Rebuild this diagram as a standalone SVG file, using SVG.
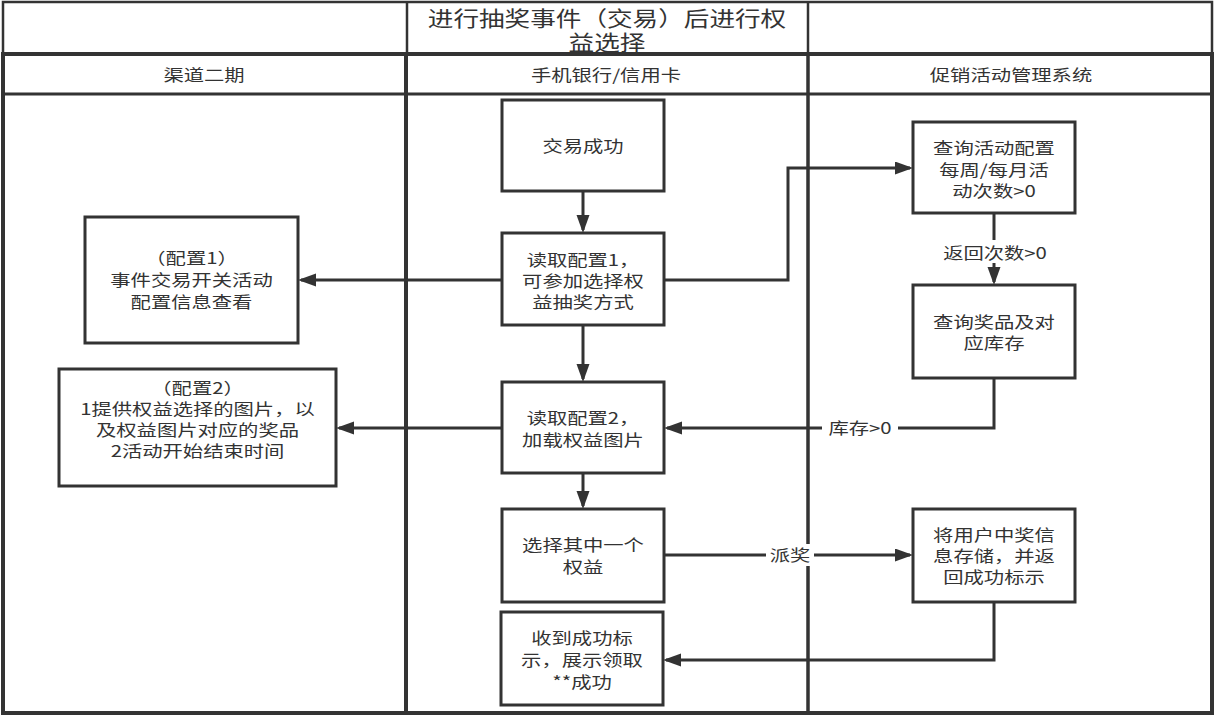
<svg xmlns="http://www.w3.org/2000/svg" width="1218" height="718" viewBox="0 0 1218 718">
<style>
  .frame{fill:none;stroke:#333}
  .box{fill:#fff;stroke:#333;stroke-width:3}
  .edge{fill:none;stroke:#333;stroke-width:3}
  .t{font-family:"Noto Sans CJK SC","Noto Sans",sans-serif;font-size:16px;fill:#333;text-anchor:middle}
  .title{font-family:"Noto Sans CJK SC","Noto Sans",sans-serif;font-size:21px;fill:#333;text-anchor:middle}
  .lblbg{fill:#fff;stroke:none}
</style>
<defs>
  <marker id="arr" markerUnits="userSpaceOnUse" markerWidth="20" markerHeight="14" refX="15" refY="6.5" orient="auto">
    <path d="M0,0 L18,6.5 L0,13 z" fill="#333"/>
  </marker>
</defs>
<rect width="1218" height="718" fill="#fff"/>
<g id="lanes">
  <rect class="frame" x="3" y="2" width="1209" height="52" stroke-width="2.5"/>
  <line class="frame" x1="407" y1="2" x2="407" y2="54" stroke-width="2.5"/>
  <line class="frame" x1="808" y1="2" x2="808" y2="54" stroke-width="2.5"/>
  <rect class="frame" x="3" y="54" width="1209" height="659" stroke-width="4"/>
  <line class="frame" x1="3" y1="94" x2="1212" y2="94" stroke-width="3"/>
  <line class="frame" x1="406" y1="54" x2="406" y2="713" stroke-width="4"/>
  <line class="frame" x1="808" y1="54" x2="808" y2="713" stroke-width="3.5"/>
  <text class="title" transform="translate(607,25.5) scale(1.22,1)">进行抽奖事件（交易）后进行权</text>
  <text class="title" transform="translate(607,50) scale(1.22,1)">益选择</text>
  <text class="t" transform="translate(204,81) scale(1.27,1)">渠道二期</text>
  <text class="t" transform="translate(606,81) scale(1.27,1)">手机银行/信用卡</text>
  <text class="t" transform="translate(1011,81) scale(1.27,1)">促销活动管理系统</text>
</g>
<g id="connectors">
  <path class="edge" d="M583,191 V230" marker-end="url(#arr)"/>
  <path class="edge" d="M583,325 V379" marker-end="url(#arr)"/>
  <path class="edge" d="M583,473 V506" marker-end="url(#arr)"/>
  <path class="edge" d="M502,280 H301" marker-end="url(#arr)"/>
  <path class="edge" d="M664,280 H788 V168 H910" marker-end="url(#arr)"/>
  <path class="edge" d="M502,428 H339" marker-end="url(#arr)"/>
  <path class="edge" d="M994,213 V282" marker-end="url(#arr)"/>
  <path class="edge" d="M994,378 V428 H667" marker-end="url(#arr)"/>
  <path class="edge" d="M664,555 H910" marker-end="url(#arr)"/>
  <path class="edge" d="M994,602 V660 H666" marker-end="url(#arr)"/>
  <rect class="lblbg" x="940" y="240" width="110" height="23"/>
  <text class="t" transform="translate(995,259) scale(1.27,1)">返回次数&gt;0</text>
  <rect class="lblbg" x="822" y="418" width="76" height="21"/>
  <text class="t" transform="translate(860,434) scale(1.27,1)">库存&gt;0</text>
  <rect class="lblbg" x="766" y="544" width="48" height="22"/>
  <text class="t" transform="translate(790,561) scale(1.27,1)">派奖</text>
</g>
<g id="n1">
  <rect class="box" x="502" y="100" width="162" height="91"/>
  <text class="t" transform="translate(583,152) scale(1.27,1)">交易成功</text>
</g>
<g id="n2">
  <rect class="box" x="502" y="233" width="162" height="92"/>
  <text class="t" transform="translate(583,266) scale(1.27,1)"><tspan x="0" y="0">读取配置1，</tspan><tspan x="0" y="21">可参加选择权</tspan><tspan x="0" y="42">益抽奖方式</tspan></text>
</g>
<g id="n3">
  <rect class="box" x="502" y="382" width="162" height="91"/>
  <text class="t" transform="translate(583,424) scale(1.27,1)"><tspan x="0" y="0">读取配置2，</tspan><tspan x="0" y="22">加载权益图片</tspan></text>
</g>
<g id="n4">
  <rect class="box" x="502" y="509" width="162" height="93"/>
  <text class="t" transform="translate(583,551) scale(1.27,1)"><tspan x="0" y="0">选择其中一个</tspan><tspan x="0" y="22">权益</tspan></text>
</g>
<g id="n5">
  <rect class="box" x="501" y="612" width="162" height="93"/>
  <text class="t" transform="translate(582,644) scale(1.27,1)"><tspan x="0" y="0">收到成功标</tspan><tspan x="0" y="22">示，展示领取</tspan><tspan x="0" y="44">**成功</tspan></text>
</g>
<g id="n6">
  <rect class="box" x="913" y="122" width="162" height="91"/>
  <text class="t" transform="translate(994,154) scale(1.27,1)"><tspan x="0" y="0">查询活动配置</tspan><tspan x="0" y="22">每周/每月活</tspan><tspan x="0" y="43">动次数&gt;0</tspan></text>
</g>
<g id="n7">
  <rect class="box" x="913" y="285" width="162" height="93"/>
  <text class="t" transform="translate(994,328) scale(1.27,1)"><tspan x="0" y="0">查询奖品及对</tspan><tspan x="0" y="21">应库存</tspan></text>
</g>
<g id="n8">
  <rect class="box" x="913" y="509" width="162" height="93"/>
  <text class="t" transform="translate(994,541) scale(1.27,1)"><tspan x="0" y="0">将用户中奖信</tspan><tspan x="0" y="21">息存储，并返</tspan><tspan x="0" y="42">回成功标示</tspan></text>
</g>
<g id="n9">
  <rect class="box" x="85" y="217" width="213" height="126"/>
  <text class="t" transform="translate(191.5,264) scale(1.27,1)"><tspan x="0" y="0">（配置1）</tspan><tspan x="0" y="22">事件交易开关活动</tspan><tspan x="0" y="44">配置信息查看</tspan></text>
</g>
<g id="n10">
  <rect class="box" x="59" y="369" width="277" height="117"/>
  <text class="t" transform="translate(197.5,394) scale(1.27,1)"><tspan x="0" y="0">（配置2）</tspan><tspan x="0" y="21">1提供权益选择的图片，以</tspan><tspan x="0" y="42">及权益图片对应的奖品</tspan><tspan x="0" y="63">2活动开始结束时间</tspan></text>
</g>
</svg>
